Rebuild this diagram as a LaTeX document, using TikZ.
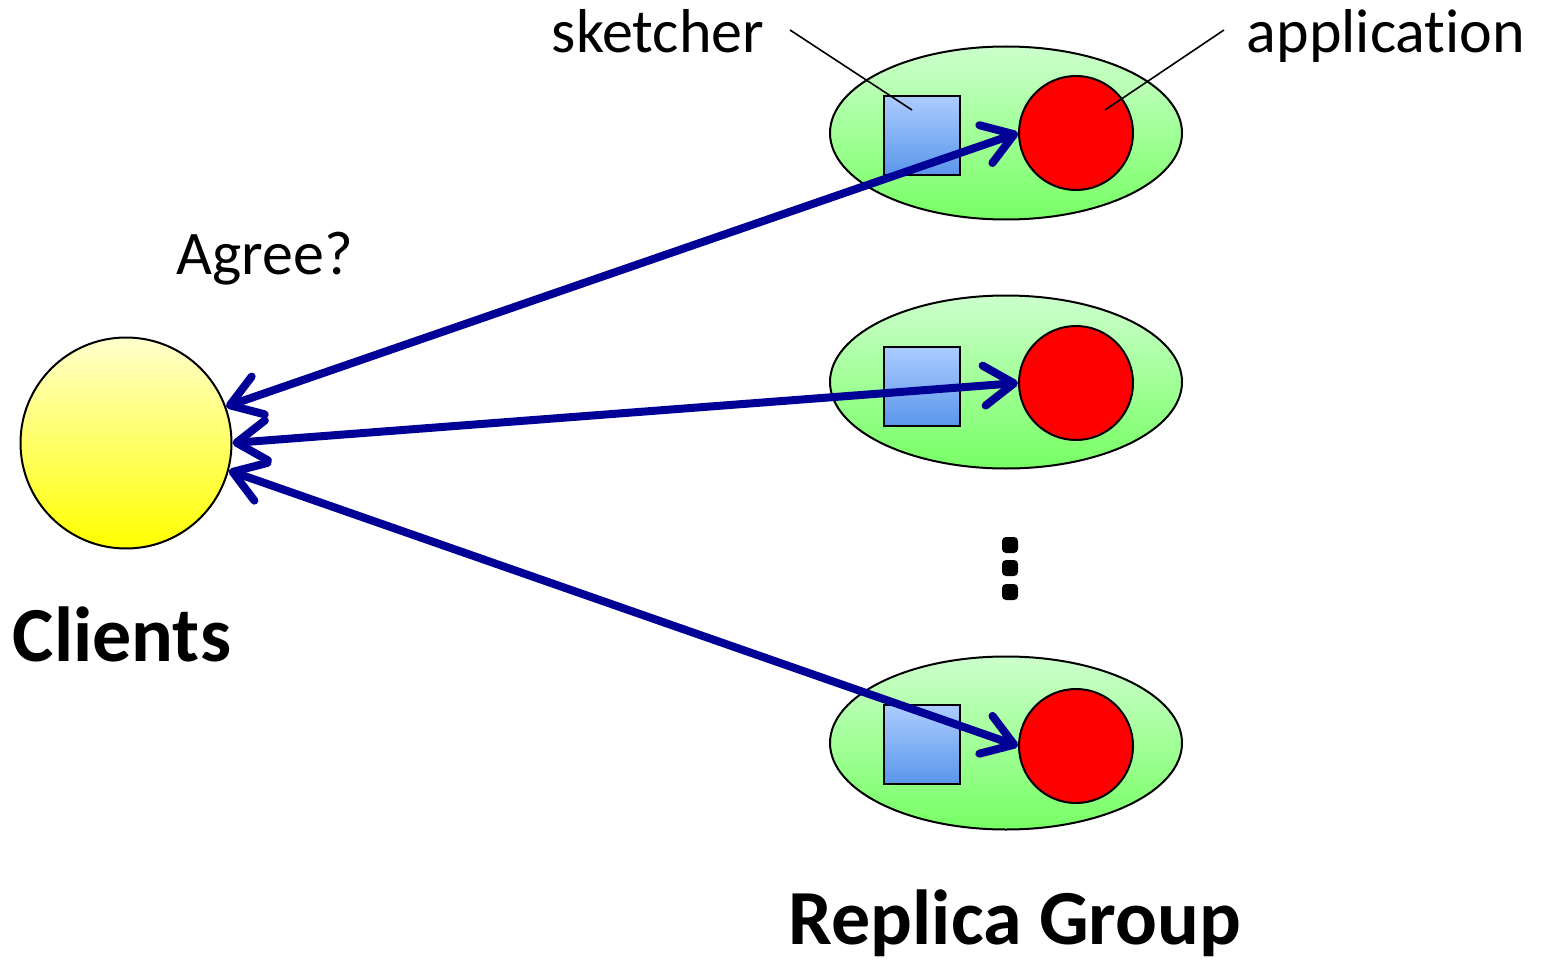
\documentclass[tikz,border=0pt]{standalone}
\usepackage{fontspec}
\setmainfont{Carlito}[Ligatures=NoCommon]
\usetikzlibrary{arrows.meta,shapes.geometric}
\definecolor{linkblue}{RGB}{0,0,150}
\definecolor{grouptop}{RGB}{204,255,204}
\definecolor{groupbot}{RGB}{119,255,100}
\definecolor{sketchtop}{RGB}{172,204,255}
\definecolor{sketchbot}{RGB}{90,150,235}
\definecolor{clienttop}{RGB}{255,255,204}
\definecolor{clientbot}{RGB}{255,255,0}
\newcommand{\regtext}{\fontsize{62}{70}\selectfont}
\newcommand{\boldtext}{\fontsize{78}{88}\selectfont\bfseries}
\begin{document}
\begin{tikzpicture}[x=1pt,y=-1pt,
  outline/.style={draw=black,line width=2pt},
  replica/.style={outline,ellipse,inner sep=0pt,minimum width=352pt,minimum height=173pt,
    top color=grouptop,bottom color=groupbot},
  sketchbox/.style={outline,rectangle,inner sep=0pt,minimum width=76pt,minimum height=79pt,
    top color=sketchtop,bottom color=sketchbot},
  appnode/.style={outline,circle,inner sep=0pt,minimum size=114pt,fill=red},
  client/.style={outline,circle,inner sep=0pt,minimum size=211pt,
    top color=clienttop,bottom color=clientbot},
  link/.style={draw=linkblue,line width=8pt,
    {Straight Barb[length=30pt,width=40pt,round]}-{Straight Barb[length=30pt,width=40pt,round]}},
  leader/.style={draw=black,line width=1.6pt},
  dotmark/.style={fill=black,rectangle,rounded corners=4pt,inner sep=0pt,minimum size=16pt},
  label/.style={anchor=base,inner sep=0pt,font=\regtext},
  title/.style={anchor=base,inner sep=0pt,font=\boldtext}]
\useasboundingbox (0,0) rectangle (1548,963);

% replica group members
\node[replica] (g1) at (1006,133) {};
\node[replica] (g2) at (1006,382) {};
\node[replica] (g3) at (1006,743) {};

\node[sketchbox] (s1) at (922,135.5) {};
\node[sketchbox] (s2) at (922,386.5) {};
\node[sketchbox] (s3) at (922,744.5) {};

\node[appnode] (a1) at (1076,133) {};
\node[appnode] (a2) at (1076,383) {};
\node[appnode] (a3) at (1076,746) {};

% vertical ellipsis between members
\node[dotmark] (d1) at (1010,545) {};
\node[dotmark] (d2) at (1010,568) {};
\node[dotmark] (d3) at (1010,592) {};

% client
\node[client] (cl) at (126,443) {};

% labels
\node[label] (sk) at (658,53) {sketcher};
\node[label] (ap) at (1386,53) {application};
\node[label] (agree) at (265,274) {Agree?};
\node[title] (clients) at (122,661) {Clients};
\node[title] (rg) at (1015,944) {Replica Group};

% leader lines
\coordinate (sk-from) at (790,30);
\coordinate (sk-to) at (912,110);
\coordinate (ap-from) at (1224,30);
\coordinate (ap-to) at (1105,110);
\draw[leader] (sk-from) -- (sk-to);
\draw[leader] (ap-from) -- (ap-to);

% client <-> replica links
\draw[link] (cl.20) -- (a1.west);
\draw[link] (cl.east) -- (a2.west);
\draw[link] (cl.-15) -- (a3.west);
\end{tikzpicture}
\end{document}
